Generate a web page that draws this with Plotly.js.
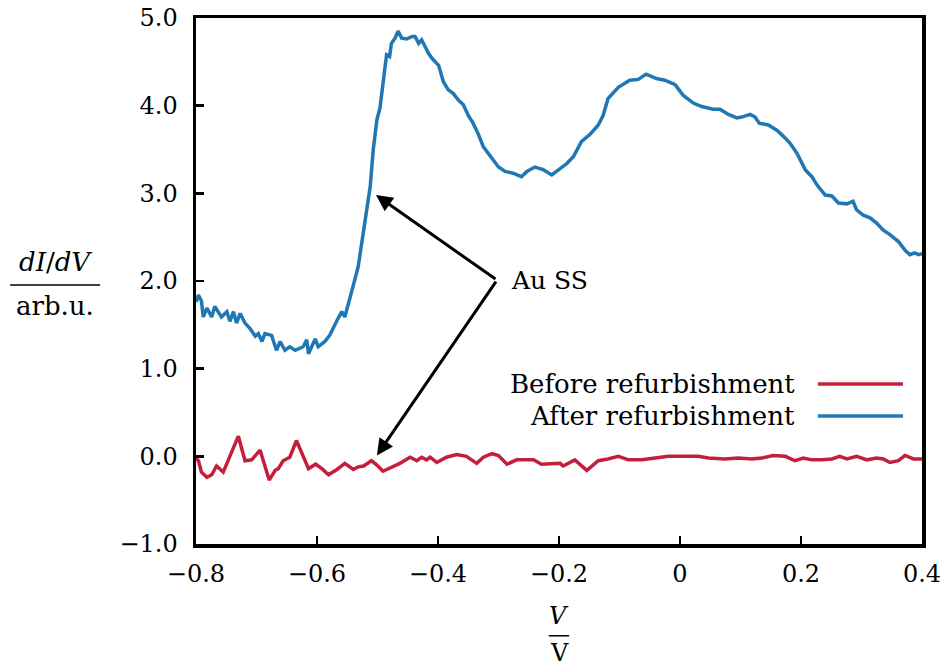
<!DOCTYPE html>
<html>
<head>
<meta charset="utf-8">
<script src="https://cdn.plot.ly/plotly-3.0.1.min.js"></script>
<style>body{margin:0;background:#fff}#chart{width:944px;height:670px}</style>
</head>
<body>
<div id="chart"></div>
<script>
// After refurbishment (blue)
const afterV = [-0.800,-0.796,-0.791,-0.788,-0.782,-0.774,-0.769,-0.758,-0.749,-0.744,-0.738,-0.733,-0.727,-0.719,-0.711,-0.702,-0.697,-0.691,-0.686,-0.675,-0.667,-0.661,-0.653,-0.645,-0.636,-0.623,-0.617,-0.614,-0.603,-0.598,-0.587,-0.579,-0.567,-0.559,-0.554,-0.548,-0.540,
  -0.532,-0.526,-0.521,-0.512,-0.507,-0.501,
  -0.496,-0.490,-0.485,-0.480,-0.477,-0.471,-0.466,-0.460,-0.452,-0.443,-0.438,-0.432,-0.427,-0.421,-0.416,-0.410,-0.405,-0.399,-0.391,-0.383,-0.375,-0.366,-0.358,-0.350,-0.342,-0.333,-0.325,-0.317,-0.309,-0.300,-0.289,-0.276,-0.262,-0.253,-0.240,-0.226,-0.212,-0.198,-0.187,
  -0.176,-0.163,-0.149,-0.135,-0.127,-0.119,-0.102,-0.083,-0.069,-0.056,-0.039,-0.025,-0.008,0.005,0.022,0.036,0.055,0.066,0.080,0.094,0.102,0.116,0.124,
  0.131,0.146,0.160,0.171,0.182,0.193,0.207,0.218,0.226,0.240,0.251,0.262,0.276,0.286,0.292,0.303,0.314,0.325,0.336,0.347,0.361,0.372,0.380,0.388,0.394,0.400];
const afterY = [1.76,1.84,1.77,1.59,1.69,1.59,1.71,1.59,1.65,1.54,1.65,1.52,1.63,1.52,1.46,1.37,1.40,1.31,1.40,1.38,1.21,1.31,1.21,1.25,1.21,1.25,1.33,1.17,1.34,1.25,1.31,1.38,1.55,1.65,1.59,1.76,1.95,
  2.16,2.43,2.70,3.08,3.50,3.84,
  3.97,4.35,4.58,4.56,4.71,4.77,4.85,4.77,4.76,4.79,4.79,4.71,4.75,4.67,4.60,4.54,4.50,4.46,4.27,4.18,4.14,4.06,4.01,3.89,3.80,3.67,3.53,3.46,3.38,3.30,3.25,3.23,3.19,3.25,3.30,3.27,3.21,3.28,3.34,
  3.42,3.59,3.67,3.78,3.89,4.08,4.21,4.29,4.30,4.36,4.31,4.29,4.24,4.12,4.03,3.99,3.96,3.96,3.90,3.86,3.87,3.90,3.87,
  3.80,3.78,3.72,3.65,3.57,3.46,3.27,3.19,3.10,2.98,2.97,2.89,2.88,2.91,2.81,2.75,2.72,2.66,2.58,2.53,2.45,2.35,2.30,2.32,2.30,2.31];

// Before refurbishment (red)
const beforeV = [-0.800,-0.796,-0.791,-0.782,-0.774,-0.766,-0.755,-0.744,-0.730,-0.719,-0.708,-0.694,-0.686,-0.679,-0.669,-0.664,-0.656,-0.645,-0.634,-0.623,-0.614,-0.602,-0.592,-0.581,-0.567,-0.554,-0.540,-0.532,-0.523,-0.510,-0.501,-0.491,-0.479,-0.463,-0.446,-0.435,-0.427,-0.419,-0.413,-0.402,-0.386,-0.369,-0.353,-0.336,-0.325,-0.311,-0.300,-0.286,-0.270,-0.259,-0.242,-0.229,-0.215,-0.198,
  -0.193,-0.174,-0.154,-0.135,-0.119,-0.102,-0.085,-0.063,-0.041,-0.019,0.003,0.030,0.047,0.074,0.096,0.119,0.135,0.154,0.174,0.190,0.204,0.218,0.234,0.251,0.264,0.276,0.292,0.309,0.325,0.336,0.347,0.361,0.372,0.386,0.400];
const beforeY = [-0.02,-0.05,-0.18,-0.24,-0.21,-0.11,-0.18,-0.01,0.23,-0.05,-0.04,0.07,-0.10,-0.27,-0.16,-0.14,-0.05,-0.01,0.18,-0.01,-0.14,-0.09,-0.14,-0.21,-0.15,-0.08,-0.15,-0.12,-0.11,-0.05,-0.10,-0.17,-0.13,-0.08,-0.01,-0.05,-0.01,-0.04,-0.01,-0.07,-0.01,0.02,0.00,-0.08,-0.01,0.03,0.01,-0.09,-0.04,-0.04,-0.04,-0.09,-0.09,-0.08,
  -0.11,-0.04,-0.16,-0.05,-0.03,0.00,-0.04,-0.04,-0.02,0.00,0.00,0.00,-0.02,-0.03,-0.02,-0.03,-0.02,0.01,0.00,-0.05,-0.02,-0.04,-0.04,-0.03,0.00,-0.03,0.00,-0.04,-0.02,-0.03,-0.07,-0.05,0.01,-0.03,-0.03];

const xTicks = [-0.8,-0.6,-0.4,-0.2,0,0.2,0.4];
const yTicks = [-1,0,1,2,3,4,5];
const seriesNames = ['Before refurbishment','After refurbishment'];
const seriesColors = ['#c41e3a','#1f77b4'];
const labelText = 'Au SS';

const FONT = 'DejaVu Serif, Liberation Serif, serif';

const traces = [
  {x: afterV, y: afterY, mode: 'lines', name: seriesNames[1], line: {color: seriesColors[1], width: 3.5}, showlegend: false},
  {x: beforeV, y: beforeY, mode: 'lines', name: seriesNames[0], line: {color: seriesColors[0], width: 3.5}, showlegend: false}
];

const arrowStyle = {axref: 'x', ayref: 'y', xref: 'x', yref: 'y', text: '', showarrow: true, arrowhead: 2, arrowsize: 1.1, arrowwidth: 3, arrowcolor: '#000'};

const annotations = [
  Object.assign({x: -0.5025, y: 2.98, ax: -0.3025, ay: 2.01}, arrowStyle),
  Object.assign({x: -0.501, y: 0.01, ax: -0.3025, ay: 2.01}, arrowStyle),
  {x: -0.283, y: 2.01, xref: 'x', yref: 'y', text: labelText, showarrow: false, xanchor: 'left', yanchor: 'middle', font: {family: FONT, size: 25, color: '#000'}},
  // legend texts
  {x: 0.8278, y: 0.3042, xref: 'paper', yref: 'paper', text: seriesNames[0], showarrow: false, xanchor: 'right', yanchor: 'middle', font: {family: FONT, size: 26, color: '#000'}},
  {x: 0.8278, y: 0.2433, xref: 'paper', yref: 'paper', text: seriesNames[1], showarrow: false, xanchor: 'right', yanchor: 'middle', font: {family: FONT, size: 26, color: '#000'}},
  // y title fraction
  {x: -0.194, y: 0.536, xref: 'paper', yref: 'paper', text: '<i>dI</i>/<i>dV</i>', showarrow: false, xanchor: 'center', yanchor: 'middle', font: {family: FONT, size: 26, color: '#000'}},
  {x: -0.194, y: 0.453, xref: 'paper', yref: 'paper', text: 'arb.u.', showarrow: false, xanchor: 'center', yanchor: 'middle', font: {family: FONT, size: 26, color: '#000'}},
  // x title fraction
  {x: 0.5, y: -0.136, xref: 'paper', yref: 'paper', text: '<i>V</i>', showarrow: false, xanchor: 'center', yanchor: 'middle', font: {family: FONT, size: 24, color: '#000'}},
  {x: 0.5, y: -0.207, xref: 'paper', yref: 'paper', text: 'V', showarrow: false, xanchor: 'center', yanchor: 'middle', font: {family: FONT, size: 24, color: '#000'}}
];

const shapes = [
  {type: 'line', xref: 'paper', yref: 'paper', x0: -0.256, x1: -0.132, y0: 0.4924, y1: 0.4924, line: {color: '#000', width: 1.5}},
  {type: 'line', xref: 'paper', yref: 'paper', x0: 0.486, x1: 0.514, y0: -0.1745, y1: -0.1745, line: {color: '#000', width: 1.5}},
  {type: 'line', xref: 'paper', yref: 'paper', x0: 0.8567, x1: 0.9738, y0: 0.3042, y1: 0.3042, line: {color: seriesColors[0], width: 3.5}},
  {type: 'line', xref: 'paper', yref: 'paper', x0: 0.8567, x1: 0.9738, y0: 0.2433, y1: 0.2433, line: {color: seriesColors[1], width: 3.5}}
];

const layout = {
  width: 944, height: 670,
  margin: {l: 196, r: 22, t: 18, b: 126},
  paper_bgcolor: '#fff', plot_bgcolor: '#fff',
  font: {family: FONT, size: 24, color: '#000'},
  showlegend: false,
  xaxis: {range: [-0.8, 0.4], tickvals: xTicks, ticks: 'inside', ticklen: 8, tickwidth: 2.5, tickcolor: '#000',
    showline: true, mirror: true, linewidth: 3.5, linecolor: '#000', showgrid: false, zeroline: false,
    tickfont: {family: FONT, size: 24, color: '#000'}, ticklabelstandoff: 6},
  yaxis: {range: [-1, 5], tickvals: yTicks, tickformat: '.1f', ticks: 'inside', ticklen: 8, tickwidth: 2.5, tickcolor: '#000',
    showline: true, mirror: true, linewidth: 3.5, linecolor: '#000', showgrid: false, zeroline: false,
    tickfont: {family: FONT, size: 24, color: '#000'}, ticklabelstandoff: 10},
  annotations: annotations,
  shapes: shapes
};

Plotly.newPlot('chart', traces, layout, {displayModeBar: false, staticPlot: true});
</script>
</body>
</html>
